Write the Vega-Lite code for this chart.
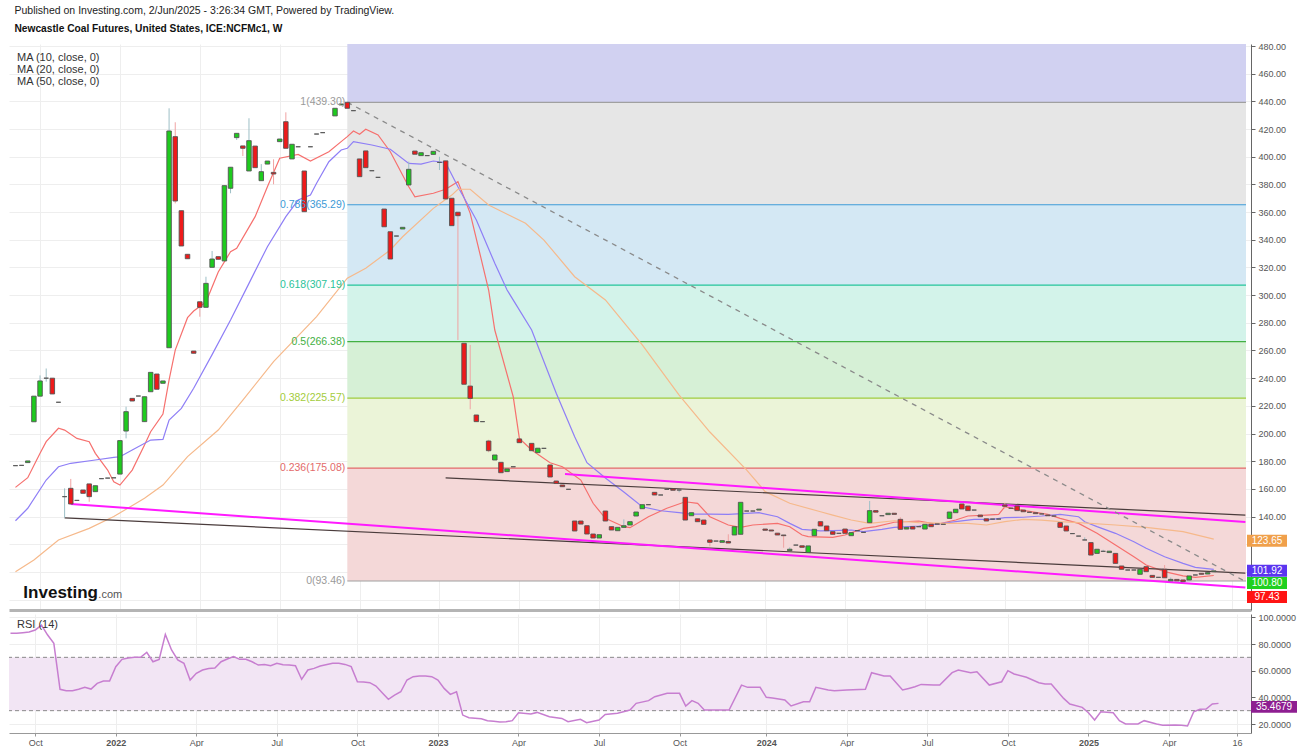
{
"$schema":"https://vega.github.io/schema/vega-lite/v6.json",
"background":"#ffffff",
"padding":{"left":8,"top":6,"right":4,"bottom":0},
"config":{"font":"Liberation Sans","view":{"stroke":null},"axis":{"title":null}},
"title":{"text":"Published on Investing.com, 2/Jun/2025 - 3:26:34 GMT, Powered by TradingView.","subtitle":"Newcastle Coal Futures, United States, ICE:NCFMc1, W","anchor":"start","dx":6,"fontSize":10.5,"fontWeight":"normal","color":"#222222","subtitleFontSize":10.2,"subtitleFontWeight":"bold","subtitleColor":"#111111","subtitlePadding":7,"offset":8},
"datasets":{
"fibBands":[{"z":"a","lo":439.3,"hi":481.45},{"z":"b","lo":365.29,"hi":439.3},{"z":"c","lo":307.19,"hi":365.29},{"z":"d","lo":266.38,"hi":307.19},{"z":"e","lo":225.57,"hi":266.38},{"z":"f","lo":175.08,"hi":225.57},{"z":"g","lo":93.46,"hi":175.08}],
"fibLevels":[{"z":"1","p":439.3,"t":"1(439.30)"},{"z":"0.786","p":365.29,"t":"0.786(365.29)"},{"z":"0.618","p":307.19,"t":"0.618(307.19)"},{"z":"0.5","p":266.38,"t":"0.5(266.38)"},{"z":"0.382","p":225.57,"t":"0.382(225.57)"},{"z":"0.236","p":175.08,"t":"0.236(175.08)"},{"z":"0","p":93.46,"t":"0(93.46)"}],
"tm":[{"id":"a","d":"2021-11-01","p":149.1},{"id":"a","d":"2025-07-01","p":88.7},{"id":"b","d":"2023-05-18","p":170.8},{"id":"b","d":"2025-07-01","p":136.1}],
"tb":[{"id":"a","d":"2021-10-25","p":139},{"id":"a","d":"2025-07-01","p":99.2},{"id":"b","d":"2023-01-02","p":167.9},{"id":"b","d":"2025-07-01","p":141.1}],
"td":[{"d":"2022-09-12","p":439.3},{"d":"2025-06-30","p":93.46}],
"candles":[
{"d":"2021-08-30","o":176.8,"h":176.8,"l":176.8,"c":176.8},
{"d":"2021-09-06","o":177,"h":177,"l":177,"c":177},
{"d":"2021-09-13","o":179,"h":180.2,"l":179,"c":180.2},
{"d":"2021-09-20","o":208.5,"h":227,"l":208.5,"c":227},
{"d":"2021-09-27","o":227,"h":242,"l":227,"c":238},
{"d":"2021-10-04","o":240,"h":247,"l":237.5,"c":240},
{"d":"2021-10-11","o":240,"h":240,"l":228.6,"c":228.6},
{"d":"2021-10-18","o":222.6,"h":222.6,"l":222.6,"c":222.6},
{"d":"2021-10-25","o":154.4,"h":160.4,"l":139,"c":154.4},
{"d":"2021-11-01","o":160.4,"h":167.2,"l":149.1,"c":149.1},
{"d":"2021-11-08","o":151.7,"h":151.7,"l":151.7,"c":151.7},
{"d":"2021-11-15","o":159.2,"h":159.2,"l":156.8,"c":156.8},
{"d":"2021-11-22","o":163.6,"h":163.6,"l":150.7,"c":154.4},
{"d":"2021-11-29","o":158,"h":162.3,"l":158,"c":162.3},
{"d":"2021-12-06","o":167.4,"h":167.4,"l":167.4,"c":167.4},
{"d":"2021-12-13","o":167.8,"h":167.8,"l":167.8,"c":167.8},
{"d":"2021-12-20","o":168,"h":168,"l":168,"c":168},
{"d":"2021-12-27","o":170.7,"h":194.9,"l":170.7,"c":194.9},
{"d":"2022-01-03","o":201.8,"h":219.4,"l":196.5,"c":215.8},
{"d":"2022-01-10","o":225.4,"h":225.4,"l":223.5,"c":223.5},
{"d":"2022-01-17","o":227.1,"h":227.1,"l":227.1,"c":227.1},
{"d":"2022-01-24","o":208.6,"h":226.6,"l":208.6,"c":226.6},
{"d":"2022-01-31","o":230.2,"h":244.2,"l":230.2,"c":244.2},
{"d":"2022-02-07","o":243,"h":243,"l":232,"c":232},
{"d":"2022-02-14","o":236.3,"h":238,"l":236.3,"c":238},
{"d":"2022-02-21","o":262,"h":435,"l":262,"c":418.6},
{"d":"2022-02-28","o":414.5,"h":424.9,"l":366.3,"c":368},
{"d":"2022-03-07","o":361,"h":361,"l":335.5,"c":335.5},
{"d":"2022-03-14","o":329.5,"h":329.5,"l":326.3,"c":326.3},
{"d":"2022-03-21","o":259.6,"h":259.6,"l":258,"c":258},
{"d":"2022-03-28","o":295.2,"h":295.2,"l":284.4,"c":291.2},
{"d":"2022-04-04","o":291.2,"h":313.3,"l":291.2,"c":308.5},
{"d":"2022-04-11","o":320.1,"h":331.9,"l":320.1,"c":326.1},
{"d":"2022-04-18","o":327.8,"h":327.8,"l":325.9,"c":325.9},
{"d":"2022-04-25","o":324.7,"h":379.1,"l":324.7,"c":379.1},
{"d":"2022-05-02","o":377.2,"h":392.4,"l":373.6,"c":392.4},
{"d":"2022-05-09","o":413.8,"h":416.9,"l":412.1,"c":416.9},
{"d":"2022-05-16","o":407.8,"h":407.8,"l":400.5,"c":406.1},
{"d":"2022-05-23","o":389.7,"h":427.8,"l":389.7,"c":411.6},
{"d":"2022-05-30","o":407.7,"h":407.7,"l":392.1,"c":392.1},
{"d":"2022-06-06","o":382.7,"h":394.7,"l":382.7,"c":389.2},
{"d":"2022-06-13","o":394.7,"h":396.9,"l":394.7,"c":396.9},
{"d":"2022-06-20","o":388.7,"h":398.1,"l":380.1,"c":387.5},
{"d":"2022-06-27","o":410.9,"h":412.8,"l":410.9,"c":412.8},
{"d":"2022-07-04","o":425.3,"h":432.1,"l":406.1,"c":406.1},
{"d":"2022-07-11","o":398.4,"h":409,"l":398.4,"c":409},
{"d":"2022-07-18","o":407.2,"h":407.2,"l":407.2,"c":407.2},
{"d":"2022-07-25","o":389.7,"h":389.7,"l":360.3,"c":360.3},
{"d":"2022-08-01","o":407.2,"h":407.2,"l":407.2,"c":407.2},
{"d":"2022-08-08","o":416.4,"h":416.4,"l":416.4,"c":416.4},
{"d":"2022-08-15","o":417.4,"h":417.4,"l":417.4,"c":417.4},
{"d":"2022-08-29","o":429.5,"h":435,"l":429.5,"c":435},
{"d":"2022-09-05","o":437.4,"h":438.1,"l":437.4,"c":438.1},
{"d":"2022-09-12","o":439.3,"h":439.3,"l":435,"c":435},
{"d":"2022-09-19","o":433.3,"h":433.3,"l":433.3,"c":433.3},
{"d":"2022-09-26","o":398.4,"h":398.4,"l":385.6,"c":385.6},
{"d":"2022-10-03","o":404.2,"h":404.2,"l":392.1,"c":392.1},
{"d":"2022-10-10","o":389.9,"h":389.9,"l":389.9,"c":389.9},
{"d":"2022-10-17","o":385.1,"h":385.1,"l":385.1,"c":385.1},
{"d":"2022-10-24","o":362.2,"h":362.2,"l":349.4,"c":349.4},
{"d":"2022-10-31","o":345.8,"h":345.8,"l":326.1,"c":326.1},
{"d":"2022-11-07","o":342.7,"h":342.7,"l":342.7,"c":342.7},
{"d":"2022-11-14","o":347.8,"h":349,"l":347.8,"c":349},
{"d":"2022-11-21","o":379.6,"h":396.5,"l":379.6,"c":390.9},
{"d":"2022-11-28","o":404.1,"h":404.1,"l":401.8,"c":401.8},
{"d":"2022-12-05","o":400.8,"h":402.9,"l":400.8,"c":402.9},
{"d":"2022-12-12","o":400.8,"h":400.8,"l":400.8,"c":400.8},
{"d":"2022-12-19","o":401.7,"h":403.9,"l":401.7,"c":403.9},
{"d":"2022-12-26","o":395.9,"h":400,"l":390.4,"c":395.9},
{"d":"2023-01-02","o":397,"h":397,"l":369.5,"c":369.5},
{"d":"2023-01-09","o":370,"h":370,"l":350.2,"c":350.2},
{"d":"2023-01-16","o":359.9,"h":359.9,"l":267.6,"c":357.4},
{"d":"2023-01-23","o":265.2,"h":265.2,"l":235.6,"c":235.6},
{"d":"2023-01-30","o":234.3,"h":264,"l":217.5,"c":225.4},
{"d":"2023-02-06","o":213.4,"h":213.4,"l":208.6,"c":208.6},
{"d":"2023-02-13","o":208.6,"h":208.6,"l":208.6,"c":208.6},
{"d":"2023-02-20","o":194.6,"h":195.5,"l":186.5,"c":187.6},
{"d":"2023-02-27","o":180.9,"h":184.5,"l":180.9,"c":184.5},
{"d":"2023-03-06","o":179.2,"h":179.2,"l":171.7,"c":171.7},
{"d":"2023-03-13","o":172.5,"h":174.4,"l":172.5,"c":174.4},
{"d":"2023-03-20","o":176,"h":176,"l":176,"c":176},
{"d":"2023-03-27","o":196.1,"h":196.1,"l":193.4,"c":193.4},
{"d":"2023-04-10","o":192.9,"h":192.9,"l":187.6,"c":187.6},
{"d":"2023-04-17","o":186.2,"h":189.4,"l":186.2,"c":189.4},
{"d":"2023-04-24","o":189.3,"h":189.3,"l":189.3,"c":189.3},
{"d":"2023-05-01","o":177.3,"h":177.3,"l":168.6,"c":168.6},
{"d":"2023-05-08","o":165.7,"h":165.7,"l":164,"c":164},
{"d":"2023-05-15","o":162.8,"h":162.8,"l":161.6,"c":161.6},
{"d":"2023-05-22","o":159.7,"h":159.7,"l":159.7,"c":159.7},
{"d":"2023-05-29","o":136.8,"h":136.8,"l":129.6,"c":129.6},
{"d":"2023-06-05","o":136.8,"h":136.8,"l":134.6,"c":134.6},
{"d":"2023-06-12","o":133.4,"h":133.4,"l":127.4,"c":127.4},
{"d":"2023-06-19","o":127.4,"h":127.4,"l":124.5,"c":124.5},
{"d":"2023-06-26","o":124.5,"h":126.9,"l":124.5,"c":126.9},
{"d":"2023-07-03","o":144,"h":144,"l":136.8,"c":136.8},
{"d":"2023-07-10","o":132.7,"h":132.7,"l":130.3,"c":130.3},
{"d":"2023-07-17","o":129.8,"h":132.2,"l":129.8,"c":132.2},
{"d":"2023-07-24","o":132.2,"h":138,"l":132.2,"c":133.4},
{"d":"2023-07-31","o":133.9,"h":136.3,"l":133.9,"c":136.3},
{"d":"2023-08-07","o":140.4,"h":143.3,"l":140.4,"c":143.3},
{"d":"2023-08-14","o":145.7,"h":148.6,"l":145.7,"c":148.6},
{"d":"2023-08-21","o":148.6,"h":148.6,"l":148.6,"c":148.6},
{"d":"2023-08-28","o":157.5,"h":157.5,"l":155.6,"c":155.6},
{"d":"2023-09-04","o":155.6,"h":155.6,"l":155.6,"c":155.6},
{"d":"2023-09-11","o":159.7,"h":159.7,"l":159.7,"c":159.7},
{"d":"2023-09-18","o":160,"h":160,"l":159,"c":159},
{"d":"2023-09-25","o":159.2,"h":159.2,"l":157.5,"c":159.2},
{"d":"2023-10-02","o":153.9,"h":153.9,"l":137.5,"c":137.5},
{"d":"2023-10-09","o":140.6,"h":142.8,"l":140.6,"c":142.8},
{"d":"2023-10-16","o":138.4,"h":138.4,"l":136.3,"c":136.3},
{"d":"2023-10-23","o":137.5,"h":137.5,"l":134.4,"c":134.4},
{"d":"2023-10-30","o":123.1,"h":123.1,"l":118.5,"c":121.4},
{"d":"2023-11-06","o":122.3,"h":122.3,"l":122.3,"c":122.3},
{"d":"2023-11-13","o":121.4,"h":122.6,"l":121.4,"c":122.6},
{"d":"2023-11-20","o":122,"h":127.2,"l":120.9,"c":120.9},
{"d":"2023-11-27","o":126.7,"h":132.7,"l":126.7,"c":132.7},
{"d":"2023-12-04","o":127.2,"h":150.3,"l":127.2,"c":150.3},
{"d":"2023-12-11","o":144,"h":144,"l":144,"c":144},
{"d":"2023-12-18","o":144,"h":144,"l":144,"c":144},
{"d":"2023-12-25","o":144.7,"h":145.4,"l":144.7,"c":145.4},
{"d":"2024-01-01","o":131,"h":131,"l":130.1,"c":130.1},
{"d":"2024-01-08","o":130.3,"h":130.3,"l":129.6,"c":129.6},
{"d":"2024-01-15","o":128,"h":128,"l":126.7,"c":126.7},
{"d":"2024-01-22","o":126.7,"h":126.7,"l":117.5,"c":126.2},
{"d":"2024-01-29","o":115.4,"h":117.8,"l":115.4,"c":116.4},
{"d":"2024-02-05","o":119.4,"h":119.4,"l":119.4,"c":119.4},
{"d":"2024-02-12","o":118.9,"h":118.9,"l":117.8,"c":117.8},
{"d":"2024-02-19","o":114,"h":118.8,"l":114,"c":118.8},
{"d":"2024-02-26","o":126.2,"h":130.8,"l":126.2,"c":130.8},
{"d":"2024-03-04","o":136.3,"h":136.3,"l":133.2,"c":133.2},
{"d":"2024-03-11","o":133.2,"h":133.2,"l":129.8,"c":129.8},
{"d":"2024-03-18","o":129.1,"h":129.1,"l":127.2,"c":127.2},
{"d":"2024-03-25","o":127.9,"h":127.9,"l":127.9,"c":127.9},
{"d":"2024-04-01","o":131,"h":131,"l":127.9,"c":127.9},
{"d":"2024-04-08","o":126.2,"h":128.4,"l":126.2,"c":128.4},
{"d":"2024-04-15","o":129.8,"h":129.8,"l":129.8,"c":129.8},
{"d":"2024-04-22","o":128.6,"h":128.6,"l":128.6,"c":128.6},
{"d":"2024-04-29","o":135.6,"h":151.3,"l":135.6,"c":144.3},
{"d":"2024-05-06","o":144.3,"h":144.3,"l":143.2,"c":143.2},
{"d":"2024-05-13","o":140.6,"h":140.6,"l":140.6,"c":140.6},
{"d":"2024-05-20","o":141.4,"h":142.4,"l":141.4,"c":142.4},
{"d":"2024-05-27","o":142.4,"h":142.4,"l":141.6,"c":141.6},
{"d":"2024-06-03","o":138,"h":139.5,"l":130.8,"c":130.8},
{"d":"2024-06-10","o":131,"h":132.2,"l":131,"c":132.2},
{"d":"2024-06-17","o":132.7,"h":132.7,"l":131,"c":131},
{"d":"2024-06-24","o":132.7,"h":132.7,"l":132.7,"c":132.7},
{"d":"2024-07-01","o":131,"h":134.4,"l":131,"c":134.4},
{"d":"2024-07-08","o":134.4,"h":134.4,"l":132.7,"c":132.7},
{"d":"2024-07-15","o":134.6,"h":134.6,"l":134.6,"c":134.6},
{"d":"2024-07-22","o":134.4,"h":134.4,"l":134.4,"c":134.4},
{"d":"2024-07-29","o":138.7,"h":143.3,"l":138.7,"c":143.3},
{"d":"2024-08-05","o":142.8,"h":145.3,"l":142.8,"c":145.3},
{"d":"2024-08-12","o":149.1,"h":149.1,"l":145.5,"c":145.5},
{"d":"2024-08-19","o":147.6,"h":147.6,"l":144.3,"c":144.3},
{"d":"2024-08-26","o":144.7,"h":144.7,"l":144.7,"c":144.7},
{"d":"2024-09-02","o":141.1,"h":141.1,"l":139.9,"c":139.9},
{"d":"2024-09-09","o":138.4,"h":138.4,"l":136.8,"c":136.8},
{"d":"2024-09-16","o":138.2,"h":138.2,"l":138.2,"c":138.2},
{"d":"2024-09-23","o":138.2,"h":138.2,"l":138.2,"c":138.2},
{"d":"2024-09-30","o":148.4,"h":150,"l":146,"c":147.4},
{"d":"2024-10-07","o":146,"h":146,"l":146,"c":146},
{"d":"2024-10-14","o":147.6,"h":147.6,"l":144.3,"c":144.3},
{"d":"2024-10-21","o":144.7,"h":144.7,"l":143.5,"c":143.5},
{"d":"2024-10-28","o":143.1,"h":143.1,"l":143.1,"c":143.1},
{"d":"2024-11-04","o":142.8,"h":142.8,"l":142.1,"c":142.1},
{"d":"2024-11-11","o":141.9,"h":141.9,"l":141.9,"c":141.9},
{"d":"2024-11-18","o":141.1,"h":141.1,"l":140.6,"c":140.6},
{"d":"2024-11-25","o":140.4,"h":140.4,"l":140.4,"c":140.4},
{"d":"2024-12-02","o":135.6,"h":135.6,"l":132.2,"c":132.2},
{"d":"2024-12-09","o":133.2,"h":133.2,"l":129.6,"c":129.6},
{"d":"2024-12-16","o":127.7,"h":127.7,"l":127.7,"c":127.7},
{"d":"2024-12-23","o":125.9,"h":125.9,"l":125.9,"c":125.9},
{"d":"2024-12-30","o":123.1,"h":125,"l":123.1,"c":123.1},
{"d":"2025-01-06","o":121.2,"h":121.2,"l":112.2,"c":112.2},
{"d":"2025-01-13","o":113.4,"h":116.4,"l":113.4,"c":116.4},
{"d":"2025-01-20","o":114.9,"h":116,"l":114.9,"c":114.9},
{"d":"2025-01-27","o":114,"h":115,"l":114,"c":115},
{"d":"2025-02-03","o":113.4,"h":113.4,"l":106.2,"c":106.2},
{"d":"2025-02-10","o":104.3,"h":104.3,"l":101.9,"c":101.9},
{"d":"2025-02-17","o":101.4,"h":101.4,"l":101.4,"c":101.4},
{"d":"2025-02-24","o":101.4,"h":101.4,"l":101.4,"c":101.4},
{"d":"2025-03-03","o":98.3,"h":101.9,"l":98.3,"c":101.9},
{"d":"2025-03-10","o":103.8,"h":103.8,"l":100.2,"c":100.2},
{"d":"2025-03-17","o":97.5,"h":97.5,"l":96.1,"c":96.1},
{"d":"2025-03-24","o":96.1,"h":96.1,"l":96.1,"c":96.1},
{"d":"2025-03-31","o":101.9,"h":105,"l":95.8,"c":95.8},
{"d":"2025-04-07","o":93.6,"h":96,"l":93.6,"c":94.6},
{"d":"2025-04-14","o":94.6,"h":94.6,"l":93.6,"c":93.6},
{"d":"2025-04-21","o":94.2,"h":94.2,"l":93,"c":93},
{"d":"2025-04-28","o":94.2,"h":97.1,"l":94.2,"c":97.1},
{"d":"2025-05-05","o":97.8,"h":97.8,"l":97.8,"c":97.8},
{"d":"2025-05-12","o":99,"h":99,"l":98.3,"c":98.3},
{"d":"2025-05-19","o":98.5,"h":99.5,"l":98.5,"c":99.5},
{"d":"2025-05-26","o":100.2,"h":100.8,"l":100.2,"c":100.8}
],
"ma":[
{"s":"10","d":"2021-08-30","v":161.1},{"s":"10","d":"2021-09-13","v":168.1},{"s":"10","d":"2021-09-27","v":185.7},{"s":"10","d":"2021-10-04","v":194.1},{"s":"10","d":"2021-10-18","v":203.8},{"s":"10","d":"2021-10-25","v":202.5},{"s":"10","d":"2021-11-08","v":196.5},{"s":"10","d":"2021-11-22","v":194.1},{"s":"10","d":"2021-11-29","v":185.7},{"s":"10","d":"2021-12-13","v":173.6},{"s":"10","d":"2021-12-20","v":165.2},{"s":"10","d":"2021-12-27","v":162.8},{"s":"10","d":"2022-01-10","v":173.6},{"s":"10","d":"2022-01-24","v":191.7},{"s":"10","d":"2022-01-31","v":201.3},{"s":"10","d":"2022-02-14","v":214.1},{"s":"10","d":"2022-02-21","v":238.7},{"s":"10","d":"2022-02-28","v":260.3},{"s":"10","d":"2022-03-14","v":283.7},{"s":"10","d":"2022-03-21","v":288.5},{"s":"10","d":"2022-04-04","v":295},{"s":"10","d":"2022-04-18","v":316.7},{"s":"10","d":"2022-05-02","v":331.4},{"s":"10","d":"2022-05-09","v":333.8},{"s":"10","d":"2022-05-30","v":356.7},{"s":"10","d":"2022-06-13","v":378.3},{"s":"10","d":"2022-06-27","v":398.9},{"s":"10","d":"2022-07-18","v":401.7},{"s":"10","d":"2022-08-01","v":396.9},{"s":"10","d":"2022-08-22","v":403.6},{"s":"10","d":"2022-09-05","v":410.9},{"s":"10","d":"2022-09-12","v":414.5},{"s":"10","d":"2022-09-19","v":418.6},{"s":"10","d":"2022-09-26","v":416.2},{"s":"10","d":"2022-10-03","v":419.8},{"s":"10","d":"2022-10-17","v":415.7},{"s":"10","d":"2022-10-31","v":403.6},{"s":"10","d":"2022-11-21","v":378.3},{"s":"10","d":"2022-11-28","v":371.1},{"s":"10","d":"2022-12-19","v":373.6},{"s":"10","d":"2023-01-02","v":376.5},{"s":"10","d":"2023-01-16","v":382},{"s":"10","d":"2023-01-30","v":359.1},{"s":"10","d":"2023-02-20","v":303.7},{"s":"10","d":"2023-02-27","v":274.8},{"s":"10","d":"2023-03-20","v":226.6},{"s":"10","d":"2023-03-27","v":196.5},{"s":"10","d":"2023-04-10","v":188.1},{"s":"10","d":"2023-05-01","v":178.9},{"s":"10","d":"2023-05-15","v":176},{"s":"10","d":"2023-06-05","v":166.4},{"s":"10","d":"2023-06-19","v":149.6},{"s":"10","d":"2023-07-03","v":138.7},{"s":"10","d":"2023-07-24","v":132.7},{"s":"10","d":"2023-07-31","v":132},{"s":"10","d":"2023-08-21","v":139.9},{"s":"10","d":"2023-09-11","v":146},{"s":"10","d":"2023-10-02","v":150.7},{"s":"10","d":"2023-10-16","v":149.6},{"s":"10","d":"2023-10-30","v":139.9},{"s":"10","d":"2023-11-20","v":133.9},{"s":"10","d":"2023-12-04","v":132.2},{"s":"10","d":"2023-12-18","v":133.9},{"s":"10","d":"2024-01-15","v":135.1},{"s":"10","d":"2024-01-29","v":132.7},{"s":"10","d":"2024-02-12","v":126.7},{"s":"10","d":"2024-02-19","v":125.5},{"s":"10","d":"2024-03-18","v":125},{"s":"10","d":"2024-04-01","v":126.7},{"s":"10","d":"2024-04-22","v":131.5},{"s":"10","d":"2024-05-06","v":132.7},{"s":"10","d":"2024-05-27","v":135.9},{"s":"10","d":"2024-06-24","v":136.8},{"s":"10","d":"2024-07-15","v":134.4},{"s":"10","d":"2024-08-05","v":137.5},{"s":"10","d":"2024-08-19","v":140.4},{"s":"10","d":"2024-09-09","v":141.1},{"s":"10","d":"2024-09-23","v":141.6},{"s":"10","d":"2024-09-30","v":147.1},{"s":"10","d":"2024-10-14","v":145.2},{"s":"10","d":"2024-11-18","v":141.6},{"s":"10","d":"2024-12-02","v":138.7},{"s":"10","d":"2024-12-23","v":135.1},{"s":"10","d":"2025-01-13","v":127.9},{"s":"10","d":"2025-02-03","v":119.5},{"s":"10","d":"2025-02-24","v":111},{"s":"10","d":"2025-03-10","v":105},{"s":"10","d":"2025-03-31","v":100.2},{"s":"10","d":"2025-04-21","v":97.1},{"s":"10","d":"2025-05-05","v":96.1},{"s":"10","d":"2025-05-26","v":97.43},
{"s":"20","d":"2021-08-30","v":137},{"s":"20","d":"2021-09-13","v":146},{"s":"20","d":"2021-10-04","v":166.4},{"s":"20","d":"2021-10-18","v":176},{"s":"20","d":"2021-11-01","v":178.5},{"s":"20","d":"2021-11-29","v":180.9},{"s":"20","d":"2021-12-20","v":182.8},{"s":"20","d":"2021-12-27","v":183.2},{"s":"20","d":"2022-01-10","v":188.1},{"s":"20","d":"2022-01-31","v":195.3},{"s":"20","d":"2022-02-14","v":195.8},{"s":"20","d":"2022-02-21","v":209.8},{"s":"20","d":"2022-03-07","v":218.2},{"s":"20","d":"2022-03-21","v":232.7},{"s":"20","d":"2022-04-11","v":257},{"s":"20","d":"2022-05-02","v":282},{"s":"20","d":"2022-05-23","v":308.5},{"s":"20","d":"2022-06-13","v":335},{"s":"20","d":"2022-07-04","v":356.7},{"s":"20","d":"2022-07-18","v":368.7},{"s":"20","d":"2022-08-01","v":372.3},{"s":"20","d":"2022-08-08","v":380.8},{"s":"20","d":"2022-08-22","v":396.4},{"s":"20","d":"2022-09-05","v":404.9},{"s":"20","d":"2022-09-12","v":406.1},{"s":"20","d":"2022-09-19","v":410.9},{"s":"20","d":"2022-10-10","v":408.5},{"s":"20","d":"2022-10-31","v":405.4},{"s":"20","d":"2022-11-21","v":395.2},{"s":"20","d":"2022-12-05","v":394.7},{"s":"20","d":"2022-12-19","v":396.9},{"s":"20","d":"2023-01-02","v":395.7},{"s":"20","d":"2023-01-16","v":378.3},{"s":"20","d":"2023-02-06","v":354.3},{"s":"20","d":"2023-02-27","v":323},{"s":"20","d":"2023-03-13","v":303.7},{"s":"20","d":"2023-04-10","v":274.8},{"s":"20","d":"2023-05-08","v":229.1},{"s":"20","d":"2023-05-29","v":197.7},{"s":"20","d":"2023-06-12","v":178.9},{"s":"20","d":"2023-07-03","v":167.9},{"s":"20","d":"2023-07-24","v":157.7},{"s":"20","d":"2023-08-14","v":147.1},{"s":"20","d":"2023-09-04","v":144.2},{"s":"20","d":"2023-09-25","v":142.8},{"s":"20","d":"2023-10-09","v":141.8},{"s":"20","d":"2023-10-30","v":141.8},{"s":"20","d":"2023-11-20","v":141.6},{"s":"20","d":"2023-12-11","v":142.3},{"s":"20","d":"2023-12-25","v":142.8},{"s":"20","d":"2024-01-15","v":139.9},{"s":"20","d":"2024-01-29","v":135.1},{"s":"20","d":"2024-02-12","v":130.8},{"s":"20","d":"2024-03-04","v":129.6},{"s":"20","d":"2024-03-18","v":129.8},{"s":"20","d":"2024-04-08","v":130.3},{"s":"20","d":"2024-04-22","v":129.1},{"s":"20","d":"2024-05-13","v":130.8},{"s":"20","d":"2024-05-27","v":132.2},{"s":"20","d":"2024-06-24","v":133.2},{"s":"20","d":"2024-07-15","v":134.6},{"s":"20","d":"2024-08-05","v":136.3},{"s":"20","d":"2024-08-26","v":138},{"s":"20","d":"2024-09-16","v":138},{"s":"20","d":"2024-09-30","v":139.2},{"s":"20","d":"2024-10-21","v":139.5},{"s":"20","d":"2024-11-11","v":140.4},{"s":"20","d":"2024-12-02","v":141.6},{"s":"20","d":"2024-12-23","v":139.9},{"s":"20","d":"2024-12-30","v":136.3},{"s":"20","d":"2025-01-13","v":132.7},{"s":"20","d":"2025-02-03","v":127.9},{"s":"20","d":"2025-02-24","v":121.8},{"s":"20","d":"2025-03-10","v":117.1},{"s":"20","d":"2025-03-31","v":111},{"s":"20","d":"2025-04-21","v":106.2},{"s":"20","d":"2025-05-05","v":103.3},{"s":"20","d":"2025-05-26","v":101.92},
{"s":"50","d":"2021-08-30","v":100.2},{"s":"50","d":"2021-09-20","v":108.6},{"s":"50","d":"2021-10-18","v":123.1},{"s":"50","d":"2021-11-22","v":131.5},{"s":"50","d":"2021-12-20","v":140},{"s":"50","d":"2022-01-24","v":153.2},{"s":"50","d":"2022-02-14","v":162.8},{"s":"50","d":"2022-03-14","v":183.3},{"s":"50","d":"2022-04-18","v":202.5},{"s":"50","d":"2022-05-16","v":224.2},{"s":"50","d":"2022-06-20","v":251.9},{"s":"50","d":"2022-08-08","v":284.4},{"s":"50","d":"2022-09-12","v":312.2},{"s":"50","d":"2022-10-03","v":319.4},{"s":"50","d":"2022-10-31","v":332.6},{"s":"50","d":"2022-11-14","v":342.2},{"s":"50","d":"2022-12-19","v":362.7},{"s":"50","d":"2023-01-09","v":372.3},{"s":"50","d":"2023-01-16","v":376.5},{"s":"50","d":"2023-01-30","v":376.5},{"s":"50","d":"2023-02-20","v":365.1},{"s":"50","d":"2023-04-03","v":351.9},{"s":"50","d":"2023-04-24","v":339.8},{"s":"50","d":"2023-05-29","v":313.3},{"s":"50","d":"2023-07-03","v":296.5},{"s":"50","d":"2023-08-14","v":264},{"s":"50","d":"2023-09-25","v":227.8},{"s":"50","d":"2023-10-30","v":201.1},{"s":"50","d":"2023-12-11","v":173.6},{"s":"50","d":"2024-01-01","v":158},{"s":"50","d":"2024-01-29","v":149.6},{"s":"50","d":"2024-03-04","v":143.5},{"s":"50","d":"2024-03-18","v":141.1},{"s":"50","d":"2024-04-08","v":137.5},{"s":"50","d":"2024-04-29","v":135.1},{"s":"50","d":"2024-05-27","v":137},{"s":"50","d":"2024-06-24","v":135.6},{"s":"50","d":"2024-07-22","v":135.1},{"s":"50","d":"2024-08-19","v":135.1},{"s":"50","d":"2024-09-09","v":133.9},{"s":"50","d":"2024-09-30","v":136.3},{"s":"50","d":"2024-10-21","v":138},{"s":"50","d":"2024-11-11","v":137.5},{"s":"50","d":"2024-12-02","v":136.3},{"s":"50","d":"2024-12-23","v":135.6},{"s":"50","d":"2025-02-03","v":133.9},{"s":"50","d":"2025-03-10","v":132.2},{"s":"50","d":"2025-04-21","v":129.1},{"s":"50","d":"2025-05-26","v":123.65}
],
"rsi":[
{"d":"2021-08-30","v":88},{"d":"2021-09-06","v":88},{"d":"2021-09-13","v":88.5},{"d":"2021-09-20","v":89},{"d":"2021-09-27","v":90.5},{"d":"2021-10-04","v":94.2},{"d":"2021-10-11","v":86.7},{"d":"2021-10-18","v":80.5},{"d":"2021-10-25","v":46},{"d":"2021-11-01","v":45},{"d":"2021-11-08","v":45},{"d":"2021-11-15","v":46},{"d":"2021-11-22","v":47.5},{"d":"2021-11-29","v":46.2},{"d":"2021-12-06","v":50.5},{"d":"2021-12-13","v":52.2},{"d":"2021-12-20","v":52.2},{"d":"2021-12-27","v":63},
{"d":"2022-01-03","v":68.5},{"d":"2022-01-10","v":69.5},{"d":"2022-01-17","v":70},{"d":"2022-01-24","v":70},{"d":"2022-01-31","v":73.7},{"d":"2022-02-07","v":66.7},{"d":"2022-02-14","v":68.5},{"d":"2022-02-21","v":87.2},{"d":"2022-02-28","v":75.5},{"d":"2022-03-07","v":68},{"d":"2022-03-14","v":65.5},{"d":"2022-03-21","v":53},{"d":"2022-03-28","v":58},{"d":"2022-04-04","v":60.5},{"d":"2022-04-11","v":61.7},{"d":"2022-04-18","v":62},{"d":"2022-04-25","v":66.7},{"d":"2022-05-02","v":68.7},{"d":"2022-05-09","v":70.5},{"d":"2022-05-16","v":68.5},{"d":"2022-05-23","v":68.5},{"d":"2022-05-30","v":66.7},{"d":"2022-06-06","v":64.2},{"d":"2022-06-13","v":64.7},{"d":"2022-06-20","v":63.7},{"d":"2022-06-27","v":65.5},{"d":"2022-07-04","v":64.5},{"d":"2022-07-11","v":64.2},{"d":"2022-07-18","v":63.7},{"d":"2022-07-25","v":53.5},{"d":"2022-08-01","v":60.5},{"d":"2022-08-08","v":61.7},{"d":"2022-08-15","v":63.5},{"d":"2022-08-29","v":65.5},{"d":"2022-09-05","v":65.5},{"d":"2022-09-12","v":64.7},{"d":"2022-09-19","v":63},{"d":"2022-09-26","v":51.7},{"d":"2022-10-03","v":51.5},{"d":"2022-10-10","v":51},{"d":"2022-10-17","v":48.5},{"d":"2022-10-24","v":43.5},{"d":"2022-10-31","v":38.5},{"d":"2022-11-07","v":41.7},{"d":"2022-11-14","v":44.2},{"d":"2022-11-21","v":53},{"d":"2022-11-28","v":55.5},{"d":"2022-12-05","v":56},{"d":"2022-12-12","v":56},{"d":"2022-12-19","v":55.5},{"d":"2022-12-26","v":53},
{"d":"2023-01-02","v":46.7},{"d":"2023-01-09","v":42.2},{"d":"2023-01-16","v":44.2},{"d":"2023-01-23","v":26.7},{"d":"2023-01-30","v":24.7},{"d":"2023-02-06","v":24.3},{"d":"2023-02-13","v":24},{"d":"2023-02-20","v":22.5},{"d":"2023-02-27","v":22},{"d":"2023-03-06","v":21.5},{"d":"2023-03-13","v":21.7},{"d":"2023-03-20","v":22.5},{"d":"2023-03-27","v":28.5},{"d":"2023-04-10","v":27.5},{"d":"2023-04-17","v":28.7},{"d":"2023-05-01","v":25.5},{"d":"2023-05-15","v":24.2},{"d":"2023-05-22","v":21.7},{"d":"2023-06-05","v":23.5},{"d":"2023-06-12","v":21},{"d":"2023-06-26","v":23},{"d":"2023-07-03","v":27.2},{"d":"2023-07-17","v":28},{"d":"2023-07-31","v":30.5},{"d":"2023-08-07","v":35.5},{"d":"2023-08-21","v":37.5},{"d":"2023-08-28","v":40.5},{"d":"2023-09-11","v":43},{"d":"2023-09-25","v":43},{"d":"2023-10-02","v":33.5},{"d":"2023-10-09","v":37.5},{"d":"2023-10-16","v":35.5},{"d":"2023-10-23","v":30.5},{"d":"2023-11-13","v":30.5},{"d":"2023-11-20","v":30.5},{"d":"2023-12-04","v":49.2},{"d":"2023-12-11","v":47.5},{"d":"2023-12-25","v":47.5},
{"d":"2024-01-01","v":40},{"d":"2024-01-08","v":39.5},{"d":"2024-01-22","v":38},{"d":"2024-01-29","v":33.5},{"d":"2024-02-12","v":36.7},{"d":"2024-02-19","v":36.7},{"d":"2024-02-26","v":47.5},{"d":"2024-03-11","v":45.5},{"d":"2024-03-18","v":45},{"d":"2024-04-01","v":45.5},{"d":"2024-04-22","v":46},{"d":"2024-04-29","v":58.5},{"d":"2024-05-13","v":56},{"d":"2024-05-20","v":56},{"d":"2024-06-03","v":45.5},{"d":"2024-06-10","v":46.7},{"d":"2024-06-17","v":48},{"d":"2024-06-24","v":49.7},{"d":"2024-07-08","v":49.2},{"d":"2024-07-15","v":49.2},{"d":"2024-07-29","v":58.5},{"d":"2024-08-05","v":60.5},{"d":"2024-08-19","v":58.5},{"d":"2024-08-26","v":59.2},{"d":"2024-09-09","v":49.2},{"d":"2024-09-23","v":51.7},{"d":"2024-09-30","v":60},{"d":"2024-10-07","v":57.5},{"d":"2024-10-21","v":55},{"d":"2024-11-04","v":51},{"d":"2024-11-11","v":50},{"d":"2024-11-18","v":50},{"d":"2024-12-02","v":39.2},{"d":"2024-12-09","v":35},{"d":"2024-12-23","v":32.5},{"d":"2024-12-30","v":28.5},
{"d":"2025-01-06","v":23},{"d":"2025-01-13","v":29.2},{"d":"2025-01-27","v":28.5},{"d":"2025-02-03","v":22.5},{"d":"2025-02-10","v":20},{"d":"2025-02-24","v":20},{"d":"2025-03-03","v":22.5},{"d":"2025-03-17","v":20},{"d":"2025-03-24","v":19},{"d":"2025-04-07","v":19.2},{"d":"2025-04-14","v":19},{"d":"2025-04-21","v":18.5},{"d":"2025-04-28","v":29.2},{"d":"2025-05-05","v":31},{"d":"2025-05-12","v":31.2},{"d":"2025-05-19","v":35},{"d":"2025-05-26","v":35.4679}
]
},
"spacing":3,
"resolve":{"scale":{"color":"independent"},"legend":{"color":"independent"}},
"vconcat":[
{
"width":1242,"height":566,
"resolve":{"scale":{"color":"independent","fill":"independent","stroke":"independent"}},
"layer":[
{"data":{"name":"fibBands"},"mark":{"type":"rect"},
 "encoding":{
  "x":{"datum":{"year":2022,"month":9,"date":12,"utc":true},"type":"temporal","scale":{"type":"utc","domain":[{"year":2021,"month":8,"date":28,"hours":8,"utc":true},{"year":2025,"month":7,"date":1,"hours":17,"utc":true}]},
   "axis":{"orient":"bottom","labels":false,"ticks":false,"title":null,"domain":true,"domainColor":"#b4b4b4","domainWidth":3,"grid":true,"gridColor":"#eeeeee","tickCount":40,
    "values":[{"year":2021,"month":9,"date":27,"utc":true},{"year":2021,"month":12,"date":27,"utc":true},{"year":2022,"month":3,"date":28,"utc":true},{"year":2022,"month":6,"date":27,"utc":true},{"year":2022,"month":9,"date":26,"utc":true},{"year":2022,"month":12,"date":26,"utc":true},{"year":2023,"month":3,"date":27,"utc":true},{"year":2023,"month":6,"date":26,"utc":true},{"year":2023,"month":9,"date":25,"utc":true},{"year":2024,"month":1,"date":1,"utc":true},{"year":2024,"month":4,"date":1,"utc":true},{"year":2024,"month":7,"date":1,"utc":true},{"year":2024,"month":9,"date":30,"utc":true},{"year":2024,"month":12,"date":30,"utc":true},{"year":2025,"month":3,"date":31,"utc":true},{"year":2025,"month":6,"date":16,"utc":true}]}},
  "x2":{"datum":{"year":2025,"month":7,"date":1,"hours":17,"utc":true}},
  "y":{"field":"lo","type":"quantitative","scale":{"domain":[72.5,481.45],"nice":false,"zero":false},
   "axis":{"orient":"right","values":[80,100,120,140,160,180,200,220,240,260,280,300,320,340,360,380,400,420,440,460,480],"tickCount":30,"labelExpr":"datum.value==80 || datum.value==100 || datum.value==120 ? '' : format(datum.value,'.2f')","labelOverlap":false,"title":null,"labelFontSize":9,"labelColor":"#555555","tickColor":"#666666","tickSize":4,"domainColor":"#666666","labelPadding":3,"grid":true,"gridColor":"#eeeeee"}},
  "y2":{"field":"hi"},
  "fill":{"field":"z","type":"nominal","scale":{"domain":["a","b","c","d","e","f","g"],"range":["#d1d1f1","#e6e6e6","#d4e8f4","#d3f3ea","#d6f0d6","#ebf4d8","#f4d8d8"]},"legend":null}}},
{"data":{"name":"fibLevels"},"mark":{"type":"rule","strokeWidth":1.2},
 "encoding":{
  "x":{"datum":{"year":2022,"month":9,"date":12,"utc":true},"type":"temporal","scale":{"type":"utc","domain":[{"year":2021,"month":8,"date":28,"hours":8,"utc":true},{"year":2025,"month":7,"date":1,"hours":17,"utc":true}]}},
  "x2":{"datum":{"year":2025,"month":7,"date":1,"hours":17,"utc":true}},
  "y":{"field":"p","type":"quantitative","scale":{"domain":[72.5,481.45],"nice":false,"zero":false}},
  "stroke":{"field":"z","type":"nominal","scale":{"domain":["1","0.786","0.618","0.5","0.382","0.236","0"],"range":["#a0a0a0","#3d9ad6","#22c39a","#43b043","#9fcb3c","#e36a6a","#a0a0a0"]},"legend":null}}},
{"data":{"name":"ma"},"mark":{"type":"line","strokeWidth":1.2,"clip":true},
 "encoding":{
  "x":{"field":"d","type":"temporal","scale":{"type":"utc","domain":[{"year":2021,"month":8,"date":28,"hours":8,"utc":true},{"year":2025,"month":7,"date":1,"hours":17,"utc":true}]}},
  "y":{"field":"v","type":"quantitative","scale":{"domain":[72.5,481.45],"nice":false,"zero":false}},
  "color":{"field":"s","type":"nominal","scale":{"domain":["10","20","50"],"range":["#f6706e","#8e7ef6","#f6b98b"]},
   "legend":{"orient":"none","legendX":8,"legendY":8,"title":null,"padding":0,"labelExpr":"'MA (' + datum.label + ', close, 0)'","labelFontSize":11,"labelColor":"#333333","symbolType":"circle","symbolSize":1,"symbolOpacity":0,"symbolStrokeWidth":0,"labelOffset":-11,"rowPadding":0}}}},
{"data":{"name":"tb"},"mark":{"type":"line","color":"#4a3c3c","strokeWidth":1.2,"clip":true},
 "encoding":{
  "x":{"field":"d","type":"temporal","scale":{"type":"utc","domain":[{"year":2021,"month":8,"date":28,"hours":8,"utc":true},{"year":2025,"month":7,"date":1,"hours":17,"utc":true}]}},
  "y":{"field":"p","type":"quantitative","scale":{"domain":[72.5,481.45],"nice":false,"zero":false}},
  "detail":{"field":"id"}}},
{"data":{"name":"tm"},"mark":{"type":"line","color":"#ff1aff","strokeWidth":2,"clip":true},
 "encoding":{
  "x":{"field":"d","type":"temporal","scale":{"type":"utc","domain":[{"year":2021,"month":8,"date":28,"hours":8,"utc":true},{"year":2025,"month":7,"date":1,"hours":17,"utc":true}]}},
  "y":{"field":"p","type":"quantitative","scale":{"domain":[72.5,481.45],"nice":false,"zero":false}},
  "detail":{"field":"id"}}},
{"data":{"name":"td"},"mark":{"type":"line","color":"#8a8a8a","strokeWidth":1.3,"strokeDash":[5,5],"clip":true},
 "encoding":{
  "x":{"field":"d","type":"temporal","scale":{"type":"utc","domain":[{"year":2021,"month":8,"date":28,"hours":8,"utc":true},{"year":2025,"month":7,"date":1,"hours":17,"utc":true}]}},
  "y":{"field":"p","type":"quantitative","scale":{"domain":[72.5,481.45],"nice":false,"zero":false}}}},
{"mark":{"type":"rule","color":"#22cc22","strokeWidth":1,"strokeDash":[2,2]},
 "encoding":{"y":{"datum":100.8,"type":"quantitative","scale":{"domain":[72.5,481.45],"nice":false,"zero":false}}}},
{"data":{"name":"candles"},"mark":{"type":"rule","strokeWidth":1,"clip":true},
 "encoding":{
  "x":{"field":"d","type":"temporal","scale":{"type":"utc","domain":[{"year":2021,"month":8,"date":28,"hours":8,"utc":true},{"year":2025,"month":7,"date":1,"hours":17,"utc":true}]}},
  "y":{"field":"l","type":"quantitative","scale":{"domain":[72.5,481.45],"nice":false,"zero":false}},
  "y2":{"field":"h"},
  "color":{"condition":{"test":"datum.c >= datum.o","value":"#9dbfc6"},"value":"#f0a3a3"}}},
{"data":{"name":"candles"},"mark":{"type":"bar","size":4.5,"stroke":"#555555","strokeWidth":0.9,"clip":true},
 "encoding":{
  "x":{"field":"d","type":"temporal","scale":{"type":"utc","domain":[{"year":2021,"month":8,"date":28,"hours":8,"utc":true},{"year":2025,"month":7,"date":1,"hours":17,"utc":true}]}},
  "y":{"field":"o","type":"quantitative","scale":{"domain":[72.5,481.45],"nice":false,"zero":false}},
  "y2":{"field":"c"},
  "fill":{"condition":{"test":"datum.c >= datum.o","value":"#1ecb1e"},"value":"#ee1a1a"}}},
{"data":{"name":"fibLevels"},"mark":{"type":"text","align":"right","baseline":"middle","dx":-2,"fontSize":10.5},
 "encoding":{
  "x":{"datum":{"year":2022,"month":9,"date":12,"utc":true},"type":"temporal","scale":{"type":"utc","domain":[{"year":2021,"month":8,"date":28,"hours":8,"utc":true},{"year":2025,"month":7,"date":1,"hours":17,"utc":true}]}},
  "y":{"field":"p","type":"quantitative","scale":{"domain":[72.5,481.45],"nice":false,"zero":false}},
  "text":{"field":"t"},
  "color":{"field":"z","type":"nominal","scale":{"domain":["1","0.786","0.618","0.5","0.382","0.236","0"],"range":["#9a9a9a","#3d9ad6","#2ac39a","#43b043","#a3cc3c","#e36a6a","#9a9a9a"]},"legend":null}}},
{"data":{"values":[{"t":"Investing"}]},"mark":{"type":"text","align":"left","baseline":"alphabetic","fontSize":17,"fontWeight":"bold","color":"#111111"},
 "encoding":{
  "x":{"datum":{"year":2021,"month":9,"date":8,"utc":true},"type":"temporal","scale":{"type":"utc","domain":[{"year":2021,"month":8,"date":28,"hours":8,"utc":true},{"year":2025,"month":7,"date":1,"hours":17,"utc":true}]}},
  "y":{"datum":81.2,"type":"quantitative","scale":{"domain":[72.5,481.45],"nice":false,"zero":false}},
  "text":{"field":"t"}}},
{"data":{"values":[{"t":".com"}]},"mark":{"type":"text","align":"left","baseline":"alphabetic","fontSize":11,"dx":75,"color":"#555555"},
 "encoding":{
  "x":{"datum":{"year":2021,"month":9,"date":8,"utc":true},"type":"temporal","scale":{"type":"utc","domain":[{"year":2021,"month":8,"date":28,"hours":8,"utc":true},{"year":2025,"month":7,"date":1,"hours":17,"utc":true}]}},
  "y":{"datum":81.2,"type":"quantitative","scale":{"domain":[72.5,481.45],"nice":false,"zero":false}},
  "text":{"field":"t"}}},
{"data":{"values":[{"t":"123.65","v":123.65}]},
 "encoding":{
  "x":{"datum":{"year":2025,"month":7,"date":1,"hours":17,"utc":true},"type":"temporal","scale":{"type":"utc","domain":[{"year":2021,"month":8,"date":28,"hours":8,"utc":true},{"year":2025,"month":7,"date":1,"hours":17,"utc":true}]}},
  "y":{"field":"v","type":"quantitative","scale":{"domain":[72.5,481.45],"nice":false,"zero":false}}},
 "layer":[
  {"mark":{"type":"point","shape":"M-1,-0.3H1V0.3H-1Z","size":1600,"filled":true,"opacity":1,"color":"#f0a04b","xOffset":21,"yOffset":1.5}},
  {"mark":{"type":"text","color":"#ffffff","fontSize":10,"align":"center","baseline":"middle","xOffset":21,"yOffset":1.5},"encoding":{"text":{"field":"t"}}}]},
{"data":{"values":[{"t":"101.92","v":101.92}]},
 "encoding":{
  "x":{"datum":{"year":2025,"month":7,"date":1,"hours":17,"utc":true},"type":"temporal","scale":{"type":"utc","domain":[{"year":2021,"month":8,"date":28,"hours":8,"utc":true},{"year":2025,"month":7,"date":1,"hours":17,"utc":true}]}},
  "y":{"field":"v","type":"quantitative","scale":{"domain":[72.5,481.45],"nice":false,"zero":false}}},
 "layer":[
  {"mark":{"type":"point","shape":"M-1,-0.3H1V0.3H-1Z","size":1600,"filled":true,"opacity":1,"color":"#5b35f0","xOffset":21,"yOffset":1.5}},
  {"mark":{"type":"text","color":"#ffffff","fontSize":10,"align":"center","baseline":"middle","xOffset":21,"yOffset":1.5},"encoding":{"text":{"field":"t"}}}]},
{"data":{"values":[{"t":"100.80","v":100.8}]},
 "encoding":{
  "x":{"datum":{"year":2025,"month":7,"date":1,"hours":17,"utc":true},"type":"temporal","scale":{"type":"utc","domain":[{"year":2021,"month":8,"date":28,"hours":8,"utc":true},{"year":2025,"month":7,"date":1,"hours":17,"utc":true}]}},
  "y":{"field":"v","type":"quantitative","scale":{"domain":[72.5,481.45],"nice":false,"zero":false}}},
 "layer":[
  {"mark":{"type":"point","shape":"M-1,-0.3H1V0.3H-1Z","size":1600,"filled":true,"opacity":1,"color":"#1fd01f","xOffset":21,"yOffset":12.2}},
  {"mark":{"type":"text","color":"#ffffff","fontSize":10,"align":"center","baseline":"middle","xOffset":21,"yOffset":12.2},"encoding":{"text":{"field":"t"}}}]},
{"data":{"values":[{"t":"97.43","v":97.43}]},
 "encoding":{
  "x":{"datum":{"year":2025,"month":7,"date":1,"hours":17,"utc":true},"type":"temporal","scale":{"type":"utc","domain":[{"year":2021,"month":8,"date":28,"hours":8,"utc":true},{"year":2025,"month":7,"date":1,"hours":17,"utc":true}]}},
  "y":{"field":"v","type":"quantitative","scale":{"domain":[72.5,481.45],"nice":false,"zero":false}}},
 "layer":[
  {"mark":{"type":"point","shape":"M-1,-0.3H1V0.3H-1Z","size":1600,"filled":true,"opacity":1,"color":"#ff1414","xOffset":21,"yOffset":21.5}},
  {"mark":{"type":"text","color":"#ffffff","fontSize":10,"align":"center","baseline":"middle","xOffset":21,"yOffset":21.5},"encoding":{"text":{"field":"t"}}}]}
]
},
{
"width":1242,"height":119,
"layer":[
{"data":{"values":[{"lo":30,"hi":70}]},"mark":{"type":"rect","color":"#f2e5f4"},
 "encoding":{
  "x":{"datum":{"year":2021,"month":8,"date":28,"hours":8,"utc":true},"type":"temporal","scale":{"type":"utc","domain":[{"year":2021,"month":8,"date":28,"hours":8,"utc":true},{"year":2025,"month":7,"date":1,"hours":17,"utc":true}]},
   "axis":{"orient":"bottom","title":null,"grid":true,"gridColor":"#eeeeee","domain":true,"domainColor":"#999999","ticks":true,"tickSize":3,"tickColor":"#999999","labelFontSize":9,"labelColor":"#555555","labelPadding":2,"labelOverlap":false,"labelFlush":false,"tickCount":40,
    "labelExpr":"utcdate(datum.value)==16 ? '16' : (utcmonth(datum.value+518400000)==0 ? utcFormat(datum.value+518400000,'%Y') : utcFormat(datum.value+518400000,'%b'))",
    "labelFontWeight":{"condition":{"test":"utcmonth(datum.value+518400000)==0 && utcdate(datum.value)!=16","value":"bold"},"value":"normal"},
    "values":[{"year":2021,"month":9,"date":27,"utc":true},{"year":2021,"month":12,"date":27,"utc":true},{"year":2022,"month":3,"date":28,"utc":true},{"year":2022,"month":6,"date":27,"utc":true},{"year":2022,"month":9,"date":26,"utc":true},{"year":2022,"month":12,"date":26,"utc":true},{"year":2023,"month":3,"date":27,"utc":true},{"year":2023,"month":6,"date":26,"utc":true},{"year":2023,"month":9,"date":25,"utc":true},{"year":2024,"month":1,"date":1,"utc":true},{"year":2024,"month":4,"date":1,"utc":true},{"year":2024,"month":7,"date":1,"utc":true},{"year":2024,"month":9,"date":30,"utc":true},{"year":2024,"month":12,"date":30,"utc":true},{"year":2025,"month":3,"date":31,"utc":true},{"year":2025,"month":6,"date":16,"utc":true}]}},
  "x2":{"datum":{"year":2025,"month":7,"date":1,"hours":17,"utc":true}},
  "y":{"field":"lo","type":"quantitative","scale":{"domain":[13.25,102.5],"nice":false,"zero":false},
   "axis":{"orient":"right","values":[20,40,60,80,100],"tickCount":10,"format":".4f","labelOverlap":false,"title":null,"labelFontSize":9,"labelColor":"#555555","tickColor":"#666666","tickSize":4,"domainColor":"#666666","labelPadding":3,"grid":true,"gridColor":"#eeeeee"}},
  "y2":{"field":"hi"}}},
{"data":{"values":[{"v":30},{"v":70}]},"mark":{"type":"rule","color":"#8a8a8a","strokeWidth":1,"strokeDash":[4,3]},
 "encoding":{"y":{"field":"v","type":"quantitative","scale":{"domain":[13.25,102.5],"nice":false,"zero":false}}}},
{"data":{"name":"rsi"},"mark":{"type":"line","strokeWidth":1.5,"clip":true},
 "encoding":{
  "x":{"field":"d","type":"temporal","scale":{"type":"utc","domain":[{"year":2021,"month":8,"date":28,"hours":8,"utc":true},{"year":2025,"month":7,"date":1,"hours":17,"utc":true}]}},
  "y":{"field":"v","type":"quantitative","scale":{"domain":[13.25,102.5],"nice":false,"zero":false}},
  "color":{"datum":"RSI (14)","type":"nominal","scale":{"range":["#c77ed0"]},
   "legend":{"orient":"none","legendX":8,"legendY":5,"title":null,"padding":0,"labelFontSize":11,"labelColor":"#333333","symbolType":"circle","symbolSize":1,"symbolOpacity":0,"symbolStrokeWidth":0,"labelOffset":-11}}}},
{"data":{"values":[{"t":"35.4679","v":35.4679}]},
 "encoding":{
  "x":{"datum":{"year":2025,"month":7,"date":1,"hours":17,"utc":true},"type":"temporal","scale":{"type":"utc","domain":[{"year":2021,"month":8,"date":28,"hours":8,"utc":true},{"year":2025,"month":7,"date":1,"hours":17,"utc":true}]}},
  "y":{"field":"v","type":"quantitative","scale":{"domain":[13.25,102.5],"nice":false,"zero":false}}},
 "layer":[
  {"mark":{"type":"point","shape":"M-1,-0.26H1V0.26H-1Z","size":2116,"filled":true,"opacity":1,"color":"#8e1e91","xOffset":23,"yOffset":3.5}},
  {"mark":{"type":"text","color":"#ffffff","fontSize":10,"align":"center","baseline":"middle","xOffset":23,"yOffset":3.5},"encoding":{"text":{"field":"t"}}}]}
]
}
]
}
